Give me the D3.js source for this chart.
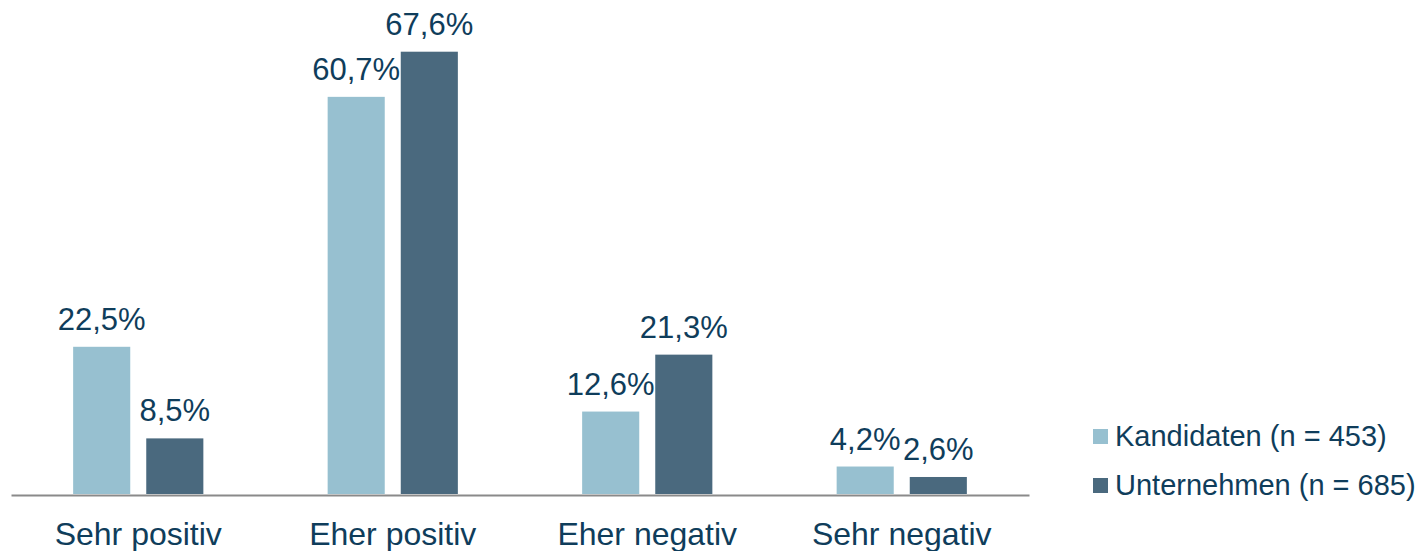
<!DOCTYPE html>
<html>
<head>
<meta charset="utf-8">
<script src="https://cdn.jsdelivr.net/npm/d3@7"></script>
<style>
    body { margin: 0; background: #fff; }
    text { font-family: "Liberation Sans", Arial, sans-serif; fill: #0f3d5b; }
</style>
</head>
<body>
<script>
// categories and series
let categories = ["Sehr positiv", "Eher positiv", "Eher negativ", "Sehr negativ"];
let seriesNames = ["Kandidaten (n = 453)", "Unternehmen (n = 685)"];
let kandidaten = [22.5, 60.7, 12.6, 4.2];
let unternehmen = [8.5, 67.6, 21.3, 2.6];
let colors = ["#97c0d0", "#4a697e"];

var width = 1421, height = 551;

var svg = d3.select("body").append("svg")
    .attr("width", width)
    .attr("height", height);

// x scales: outer per category, inner per series
var x0 = d3.scaleBand()
    .domain(categories)
    .range([11, 1029])
    .padding(0);

var x1 = d3.scaleBand()
    .domain(seriesNames)
    .range([0, x0.bandwidth()])
    .paddingInner(0.219)
    .paddingOuter(0.85);

var y = d3.scaleLinear()
    .domain([0, 70])
    .range([494, 36]);

var rows = categories.map(function (c, i) {
    return { cat: c, values: [kandidaten[i], unternehmen[i]] };
});

var fmt = function (v) { return d3.format(".1f")(v).replace(".", ",") + "%"; };

var groups = svg.selectAll("g.group")
    .data(rows)
    .enter().append("g")
    .attr("class", "group")
    .attr("transform", function (d) { return "translate(" + x0(d.cat) + ",0)"; });

groups.selectAll("rect")
    .data(function (d) { return d.values.map(function (v, j) { return { s: seriesNames[j], v: v, j: j }; }); })
    .enter().append("rect")
    .attr("x", function (d) { return x1(d.s); })
    .attr("y", function (d) { return y(d.v); })
    .attr("width", x1.bandwidth())
    .attr("height", function (d) { return y(0) - y(d.v); })
    .style("fill", function (d) { return colors[d.j]; });

groups.selectAll("text.val")
    .data(function (d) { return d.values.map(function (v, j) { return { s: seriesNames[j], v: v }; }); })
    .enter().append("text")
    .attr("class", "val")
    .attr("x", function (d) { return x1(d.s) + x1.bandwidth() / 2; })
    .attr("y", function (d) { return y(d.v) - 17; })
    .attr("text-anchor", "middle")
    .style("font-size", "31px")
    .text(function (d) { return fmt(d.v); });

// category axis
var xAxis = svg.append("g")
    .attr("transform", "translate(0,495)")
    .call(d3.axisBottom(x0).tickSize(0).tickSizeOuter(0));

xAxis.select(".domain")
    .attr("stroke", "#8a8a8a")
    .attr("stroke-width", 2);

xAxis.selectAll(".tick text")
    .attr("y", 50)
    .attr("dy", 0)
    .style("font-size", "32px")
    .style("font-family", "'Liberation Sans', Arial, sans-serif")
    .attr("fill", "#0f3d5b");

// legend
var legend = svg.selectAll("g.legend")
    .data(seriesNames)
    .enter().append("g")
    .attr("class", "legend")
    .attr("transform", function (d, i) { return "translate(1093," + (429 + i * 49) + ")"; });

legend.append("rect")
    .attr("width", 15)
    .attr("height", 15)
    .style("fill", function (d, i) { return colors[i]; });

legend.append("text")
    .attr("x", 22)
    .attr("y", 17)
    .style("font-size", "29px")
    .text(function (d) { return d; });
</script>
</body>
</html>
